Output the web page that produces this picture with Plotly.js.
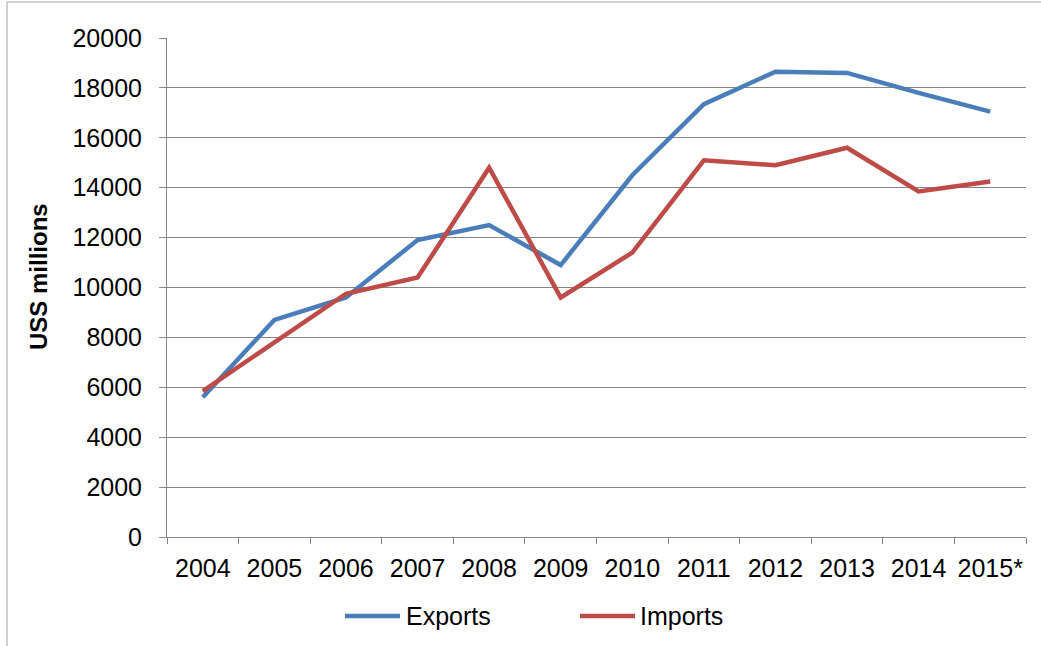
<!DOCTYPE html>
<html>
<head>
<meta charset="utf-8">
<script src="https://cdn.plot.ly/plotly-3.0.1.min.js"></script>
<style>
html,body{margin:0;padding:0;background:#fff;}
#chart{width:1041px;height:646px;}
</style>
</head>
<body>
<div id="chart"></div>
<script>
const years = ["2004","2005","2006","2007","2008","2009","2010","2011","2012","2013","2014","2015*"];
const exportsVals = [5600, 8700, 9600, 11900, 12500, 10900, 14500, 17350, 18650, 18600, 17800, 17050];
const importsVals = [5850, 7800, 9750, 10400, 14800, 9600, 11400, 15100, 14900, 15600, 13850, 14250];
const seriesNames = ["Exports", "Imports"];
const seriesColors = ["#4A7EBB", "#BE4B48"];
const yTicks = [0, 2000, 4000, 6000, 8000, 10000, 12000, 14000, 16000, 18000, 20000];
const yTitle = "USS millions";

const L = 167, R = 1026, T = 38, B = 537, W = 1041, H = 646;
const pw = R - L, ph = B - T;
const px = x => (x - L) / pw;
const py = y => (B - y) / ph;

const traces = [exportsVals, importsVals].map((vals, i) => ({
  type: "scatter",
  mode: "lines",
  x: years,
  y: vals,
  name: seriesNames[i],
  line: {color: seriesColors[i], width: 4.5},
  hoverinfo: "skip"
}));

const font = {family: "Liberation Sans, Arial, sans-serif", color: "#000"};

const legendItems = [
  {x0: 345, x1: 400, tx: 404},
  {x0: 580, x1: 635, tx: 638}
];
const legY = 616;

const shapes = [
  {type: "line", xref: "paper", yref: "paper", x0: px(7), x1: px(W), y0: py(2), y1: py(2), line: {color: "#bfbfbf", width: 1.5}},
  {type: "line", xref: "paper", yref: "paper", x0: px(7), x1: px(7), y0: py(2), y1: py(H), line: {color: "#bfbfbf", width: 1.5}}
];
const annotations = [
  {xref: "paper", yref: "paper", x: px(38), y: py(277), text: "<b>" + yTitle + "</b>", showarrow: false, textangle: -90, font: Object.assign({size: 24}, font), xanchor: "center", yanchor: "middle"}
];
legendItems.forEach((it, i) => {
  shapes.push({type: "line", xref: "paper", yref: "paper", x0: px(it.x0), x1: px(it.x1), y0: py(legY), y1: py(legY), line: {color: seriesColors[i], width: 4.5}});
  annotations.push({xref: "paper", yref: "paper", x: px(it.tx), y: py(legY), text: seriesNames[i], showarrow: false, xanchor: "left", yanchor: "middle", font: Object.assign({size: 25}, font)});
});

const layout = {
  width: W, height: H,
  margin: {l: L, r: W - R, t: T, b: H - B, pad: 0},
  paper_bgcolor: "#fff",
  plot_bgcolor: "#fff",
  showlegend: false,
  font: Object.assign({size: 25}, font),
  xaxis: {
    type: "category",
    range: [-0.5, years.length - 0.5],
    tickson: "boundaries",
    tickangle: 0,
    ticks: "outside",
    ticklen: 6,
    tickwidth: 1,
    tickcolor: "#868686",
    showgrid: false,
    showline: true,
    linecolor: "#868686",
    linewidth: 1,
    zeroline: false,
    tickfont: Object.assign({size: 25}, font),
    ticklabelstandoff: 9,
    fixedrange: true
  },
  yaxis: {
    range: [0, 20000],
    tickvals: yTicks,
    ticktext: yTicks.map(String),
    ticks: "outside",
    ticklen: 7,
    tickwidth: 1,
    tickcolor: "#868686",
    showgrid: true,
    gridcolor: "#868686",
    gridwidth: 1,
    showline: true,
    linecolor: "#868686",
    linewidth: 1,
    zeroline: false,
    tickfont: Object.assign({size: 25}, font),
    ticklabelstandoff: 12,
    fixedrange: true
  },
  shapes: shapes,
  annotations: annotations
};

Plotly.newPlot("chart", traces, layout, {displayModeBar: false, staticPlot: true});
</script>
</body>
</html>
